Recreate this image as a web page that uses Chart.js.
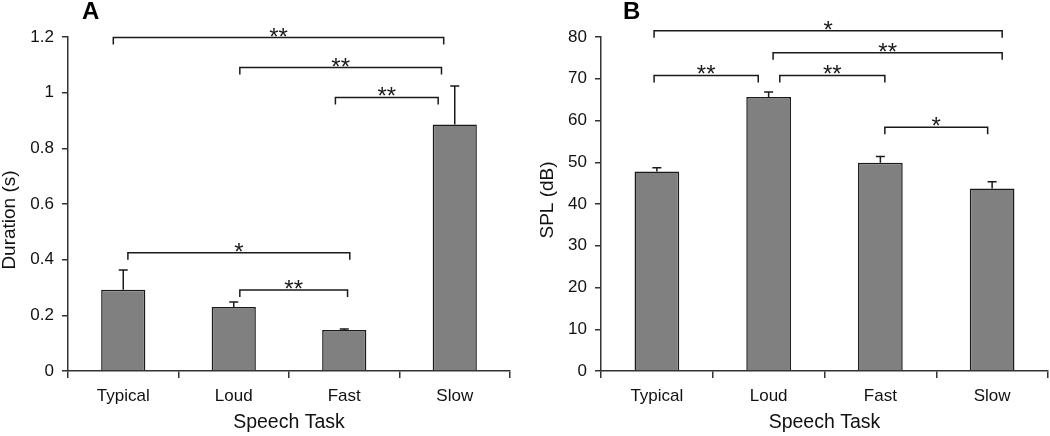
<!DOCTYPE html>
<html>
<head>
<meta charset="utf-8">
<script src="https://cdn.jsdelivr.net/npm/chart.js@4.4.1/dist/chart.umd.min.js"></script>
<style>
  body { margin: 0; background: #fff; }
  .panel { position: absolute; top: 0; width: 525px; height: 436px; }
  #panelA { left: 0; }
  #panelB { left: 525px; }
</style>
</head>
<body>
<div class="panel" id="panelA"><canvas id="chartA" width="525" height="436"></canvas></div>
<div class="panel" id="panelB"><canvas id="chartB" width="525" height="436"></canvas></div>
<script>
const tasks = ['Typical', 'Loud', 'Fast', 'Slow'];

const durationMean = [0.292, 0.230, 0.147, 0.886];
const durationErr = [0.071, 0.018, 0.004, 0.138];
const durationTicks = { min: 0, max: 1.2, step: 0.2 };

const splMean = [47.8, 65.6, 49.9, 43.7];
const splErr = [0.9, 1.2, 1.5, 1.6];
const splTicks = { min: 0, max: 80, step: 10 };

// significance brackets, ends given in category units (0 = Typical ... 3 = Slow)
const durationSig = [
  { from: -0.09, to: 2.90, y: 1.198, text: '**' },
  { from: 1.055, to: 2.88, y: 1.09, text: '**' },
  { from: 1.92, to: 2.85, y: 0.983, text: '**' },
  { from: 0.042, to: 2.05, y: 0.425, text: '*' },
  { from: 1.055, to: 2.03, y: 0.291, text: '**' }
];
const splSig = [
  { from: -0.025, to: 3.09, y: 81.5, text: '*' },
  { from: 1.04, to: 3.09, y: 76.2, text: '**' },
  { from: -0.025, to: 0.907, y: 70.8, text: '**' },
  { from: 1.10, to: 2.04, y: 70.8, text: '**' },
  { from: 2.04, to: 2.96, y: 58.4, text: '*' }
];

const FONT = '"Liberation Sans", Arial, sans-serif';
const INK = '#1a1a1a';

const annotate = {
  id: 'annotate',
  afterDatasetsDraw(chart, args, opts) {
    const ctx = chart.ctx;
    const x = chart.scales.x, y = chart.scales.y;
    const meta = chart.getDatasetMeta(0);
    const step = x.width / chart.data.labels.length;
    const base = x.getPixelForValue(0);
    ctx.save();
    ctx.strokeStyle = INK;
    ctx.fillStyle = INK;
    ctx.lineWidth = 1.5;
    // error bars (upper whisker only)
    opts.errors.forEach((e, i) => {
      const bar = meta.data[i];
      const top = y.getPixelForValue(opts.means[i] + e);
      ctx.beginPath();
      ctx.moveTo(bar.x, bar.y);
      ctx.lineTo(bar.x, top);
      ctx.moveTo(bar.x - 4.5, top);
      ctx.lineTo(bar.x + 4.5, top);
      ctx.stroke();
    });
    // brackets
    ctx.font = '24px ' + FONT;
    ctx.textAlign = 'center';
    ctx.textBaseline = 'alphabetic';
    opts.brackets.forEach(b => {
      const x1 = base + b.from * step, x2 = base + b.to * step;
      const yl = y.getPixelForValue(b.y);
      ctx.beginPath();
      ctx.moveTo(x1, yl + 7);
      ctx.lineTo(x1, yl);
      ctx.lineTo(x2, yl);
      ctx.lineTo(x2, yl + 7);
      ctx.stroke();
      ctx.fillText(b.text, (x1 + x2) / 2, yl + 7);
    });
    // panel letter
    ctx.font = 'bold 24px ' + FONT;
    ctx.textAlign = 'left';
    ctx.fillStyle = '#000';
    ctx.fillText(opts.letter, opts.letterX, 19);
    // y title
    ctx.font = '19px ' + FONT;
    ctx.fillStyle = '#111';
    ctx.translate(opts.titleX, opts.titleY);
    ctx.rotate(-Math.PI / 2);
    ctx.textAlign = 'center';
    ctx.textBaseline = 'middle';
    ctx.fillText(opts.yTitle, 0, 0);
    ctx.restore();
  }
};

function makePanel(id, means, errs, ticks, sig, cfg) {
  const ctx = document.getElementById(id).getContext('2d');
  return new Chart(ctx, {
    type: 'bar',
    data: {
      labels: tasks,
      datasets: [{
        data: means,
        backgroundColor: '#808080',
        borderColor: INK,
        borderWidth: 1.5,
        barPercentage: 0.4,
        categoryPercentage: 1.0
      }]
    },
    options: {
      responsive: false,
      animation: false,
      layout: { padding: { top: 37, right: cfg.padRight, left: 0, bottom: 0 } },
      plugins: {
        legend: { display: false },
        tooltip: { enabled: false },
        annotate: {
          means: means, errors: errs, brackets: sig,
          letter: cfg.letter, letterX: cfg.letterX,
          yTitle: cfg.yTitle, titleX: cfg.titleX, titleY: cfg.titleY
        }
      },
      scales: {
        x: {
          grid: { display: true, drawOnChartArea: false, drawTicks: true, tickLength: 7, color: '#333', lineWidth: 1.5 },
          border: { display: true, color: '#333', width: 1.5 },
          ticks: { color: '#111', padding: 8, font: { family: FONT, size: 17 } },
          title: { display: true, text: 'Speech Task', color: '#111', font: { family: FONT, size: 19.5 }, padding: { top: 0, bottom: 2 } },
          afterFit: s => { s.height = 65; }
        },
        y: {
          min: ticks.min,
          max: ticks.max,
          grid: { display: true, drawOnChartArea: false, drawTicks: true, tickLength: 6, color: '#333', lineWidth: 1.5 },
          border: { display: true, color: '#333', width: 1.5 },
          ticks: {
            stepSize: ticks.step, color: '#111', padding: 8, font: { family: FONT, size: 17 },
            callback: v => String(Math.round(v * 10) / 10)
          },
          afterFit: s => { s.width = cfg.axisLeft; }
        }
      }
    },
    plugins: [annotate]
  });
}

makePanel('chartA', durationMean, durationErr, durationTicks, durationSig,
  { letter: 'A', letterX: 82, yTitle: 'Duration (s)', titleX: 10, titleY: 220, axisLeft: 68, padRight: 15 });
makePanel('chartB', splMean, splErr, splTicks, splSig,
  { letter: 'B', letterX: 98, yTitle: 'SPL (dB)', titleX: 23, titleY: 200, axisLeft: 76, padRight: 2 });
</script>
</body>
</html>
